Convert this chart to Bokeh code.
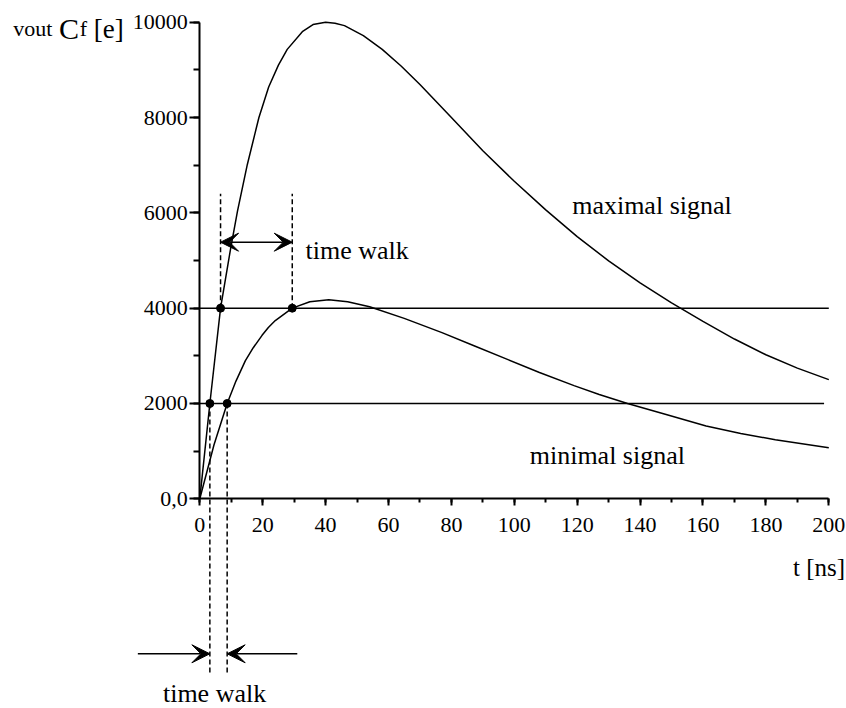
from bokeh.plotting import figure
from bokeh.models import Range1d, SingleIntervalTicker, NumeralTickFormatter, Arrow, VeeHead
from bokeh.core.properties import value
from bokeh.embed import file_html
from bokeh.resources import INLINE

# ---------------- data ----------------
t_max = [0, 3.2, 6.6, 9.8, 12, 15.1, 18.8, 21.9, 25, 27.8, 32.6, 36, 40, 43, 46, 52,
         58, 64, 70, 80, 90, 100, 110, 120, 130, 140, 150, 160, 170, 180, 190, 200]
v_max = [0, 2000, 4000, 5250, 6040, 7010, 8000, 8640, 9100, 9430, 9800, 9950, 10000,
         9980, 9928, 9718, 9430, 9082, 8692, 8002, 7302, 6662, 6062, 5502, 4992, 4532,
         4112, 3722, 3352, 3022, 2742, 2500]

t_min = [0, 4.5, 8.7, 11.5, 14.5, 17, 19.8, 21.8, 24, 29.4, 35, 41, 47, 54, 65, 77, 87,
         98, 108, 119, 127, 136, 148, 161, 172, 183, 200]
v_min = [0, 1130, 2000, 2470, 2900, 3170, 3430, 3595, 3740, 4000, 4135, 4175, 4133,
         4028, 3786, 3486, 3216, 2919, 2649, 2374, 2190, 2001, 1773, 1526, 1372, 1240,
         1070]

thresholds = [2000, 4000]
threshold_end = [198.5, 200]
cross_max = [3.2, 6.6]      # times where the maximal signal crosses 2000 / 4000
cross_min = [8.7, 29.4]     # times where the minimal signal crosses 2000 / 4000

y_tick_labels = {0: "0,0"}

SERIF = "Liberation Serif"

# ---------------- figure ----------------
p = figure(width=846, height=708,
           x_range=Range1d(-63.37, 205.63), y_range=Range1d(-4400, 10455.3),
           output_backend="svg", toolbar_location=None, min_border=0,
           background_fill_color="white", border_fill_color="white")
p.outline_line_color = None
p.xgrid.visible = False
p.ygrid.visible = False

xa = p.xaxis[0]
xa.fixed_location = 0
xa.bounds = (0, 200)
xa.ticker = SingleIntervalTicker(interval=20, num_minor_ticks=2)
xa.major_tick_in = 0
xa.major_tick_out = 7
xa.minor_tick_in = 0
xa.minor_tick_out = 4
xa.major_label_standoff = 12

ya = p.yaxis[0]
ya.fixed_location = 0
ya.bounds = (0, 10000)
ya.ticker = SingleIntervalTicker(interval=2000, num_minor_ticks=2)
ya.formatter = NumeralTickFormatter(format="0")
ya.major_label_overrides = y_tick_labels
ya.major_tick_in = 0
ya.major_tick_out = 10
ya.minor_tick_in = 0
ya.minor_tick_out = 6
ya.major_label_standoff = 2

for ax in (xa, ya):
    ax.axis_line_width = 2
    ax.axis_line_color = "black"
    ax.major_tick_line_width = 2
    ax.minor_tick_line_width = 2
    ax.major_tick_line_color = "black"
    ax.minor_tick_line_color = "black"
    ax.major_label_text_font = SERIF
    ax.major_label_text_font_size = "22px"
    ax.major_label_text_color = "black"

# threshold lines
p.segment(x0=[0, 0], y0=thresholds, x1=threshold_end, y1=thresholds,
          line_color="black", line_width=1.5)

# curves
p.line(t_max, v_max, line_color="black", line_width=1.5)
p.line(t_min, v_min, line_color="black", line_width=1.5)

# upper dashed markers (4000 crossings)
p.segment(x0=[cross_max[1], cross_min[1]], y0=[thresholds[1]] * 2,
          x1=[cross_max[1], cross_min[1]], y1=[6400, 6400],
          line_color="black", line_width=1.5, line_dash="5 3")
# lower dashed markers (2000 crossings)
p.segment(x0=[cross_max[0], cross_min[0]], y0=[thresholds[0]] * 2,
          x1=[cross_max[0], cross_min[0]], y1=[-3672, -3672],
          line_color="black", line_width=1.5, line_dash="5 3")

# crossing dots
p.scatter(x=cross_max + cross_min, y=thresholds + thresholds, size=8,
          color="black")

# arrows
def head():
    return VeeHead(size=18, fill_color="black", line_color="black", line_width=1)

p.add_layout(Arrow(start=head(), end=head(), x_start=cross_max[1], y_start=5384,
                   x_end=cross_min[1], y_end=5384, line_width=1.5, line_color="black"))
p.add_layout(Arrow(end=head(), x_start=-19.7, y_start=-3252,
                   x_end=cross_max[0], y_end=-3252, line_width=1.5, line_color="black"))
p.add_layout(Arrow(end=head(), x_start=31.0, y_start=-3252,
                   x_end=cross_min[0], y_end=-3252, line_width=1.5, line_color="black"))

# texts
def txt(x, y, s, size, align="left", baseline="alphabetic"):
    p.text(x=[x], y=[y], text=[s], text_font=value(SERIF),
           text_font_size=value(size), text_baseline=baseline,
           text_align=align, text_color="black")

txt(118.4, 6154, "maximal signal", "26px")
txt(104.9, 908, "minimal signal", "26px")
txt(33.6, 5210, "time walk", "26px")
txt(4.7, -4075, "time walk", "26px", align="center", baseline="middle")
txt(205.2, -1435, "t [ns]", "25px", align="right")

# y-axis title: vout Cf [e]
txt(-59.3, 9862, "vout", "22px")
txt(-44.8, 9862, "C", "30px")
txt(-38.2, 9862, "f", "22px")
txt(-33.7, 9862, "[e]", "27px")

open("out.html", "w").write(file_html(p, INLINE))
